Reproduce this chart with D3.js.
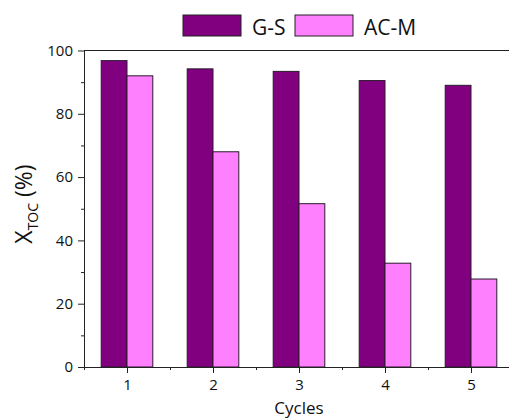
<!DOCTYPE html>
<html>
<head>
<meta charset="utf-8">
<script src="https://cdn.jsdelivr.net/npm/d3@7"></script>
<style>
  html, body { margin: 0; padding: 0; background: #fff; }
  svg { display: block; font-family: "Open Sans", "Noto Sans", sans-serif; }
</style>
</head>
<body>
<svg id="chart" width="509" height="419"></svg>
<script>
// TOC conversion over repeated cycles for the two catalysts
const cycles = [1, 2, 3, 4, 5];
const gsValues = [96.8, 94.2, 93.4, 90.5, 89.0];
const acmValues = [92.0, 68.0, 51.6, 32.8, 27.8];
const seriesNames = ["G-S", "AC-M"];
const seriesColors = ["#800080", "#ff80ff"];
const yTicks = [0, 20, 40, 60, 80, 100];
const yMinorTicks = [10, 30, 50, 70, 90];
const xMinorTicks = [0.5, 1.5, 2.5, 3.5, 4.5, 5.5];

const svg = d3.select("#chart");
const plotLeft = 84, plotRight = 514, plotTop = 50.5, plotBottom = 367;

const x = d3.scaleLinear().domain([0.5, 5.5]).range([plotLeft, plotRight]);
const y = d3.scaleLinear().domain([0, 100]).range([plotBottom, plotTop]);
const barW = 0.3;

const series = [gsValues, acmValues];

// bars: G-S sits left of the cycle tick, AC-M right of it
series.forEach((vals, si) => {
  svg.append("g").selectAll("rect")
    .data(cycles.map((c, i) => ({ c, v: vals[i] })))
    .join("rect")
    .attr("x", d => x(si === 0 ? d.c - barW : d.c))
    .attr("width", d => x(d.c + barW) - x(d.c))
    .attr("y", d => y(d.v))
    .attr("height", d => y(0) - y(d.v))
    .attr("fill", seriesColors[si])
    .attr("stroke", "#2a1a2a")
    .attr("stroke-width", 1);
});

// top frame line
svg.append("line")
  .attr("x1", plotLeft).attr("x2", plotRight)
  .attr("y1", plotTop).attr("y2", plotTop)
  .attr("stroke", "#222").attr("stroke-width", 1);

// x axis
svg.append("g")
  .attr("transform", `translate(0,${plotBottom})`)
  .call(d3.axisBottom(x).tickValues(cycles).tickFormat(d3.format("d"))
    .tickSize(6).tickSizeOuter(0).tickPadding(6));
svg.append("g")
  .attr("transform", `translate(0,${plotBottom})`)
  .call(d3.axisBottom(x).tickValues(xMinorTicks).tickSize(3).tickSizeOuter(0).tickFormat(""))
  .select(".domain").remove();

// y axis
svg.append("g")
  .attr("transform", `translate(${plotLeft},0)`)
  .call(d3.axisLeft(y).tickValues(yTicks).tickSize(6).tickSizeOuter(0).tickPadding(5));
svg.append("g")
  .attr("transform", `translate(${plotLeft},0)`)
  .call(d3.axisLeft(y).tickValues(yMinorTicks).tickSize(3).tickSizeOuter(0).tickFormat(""))
  .select(".domain").remove();

svg.selectAll(".domain, .tick line").attr("stroke", "#222").attr("stroke-width", 1);
svg.selectAll(".tick text")
  .attr("fill", "#111")
  .style("font-family", '"Open Sans", "Noto Sans", sans-serif')
  .style("font-size", "15px");

// axis titles
svg.append("text")
  .attr("x", x(3)).attr("y", 414)
  .attr("text-anchor", "middle")
  .style("font-size", "17px")
  .attr("fill", "#111")
  .text("Cycles");

const yTitle = svg.append("text")
  .attr("transform", "translate(32,204) rotate(-90)")
  .attr("text-anchor", "middle")
  .attr("fill", "#111")
  .style("font-size", "23px");
yTitle.append("tspan").text("X");
yTitle.append("tspan").attr("dy", 6).style("font-size", "14px").text("TOC");
yTitle.append("tspan").attr("dy", -6).text(" (%)");

// legend
const legendX = [183, 295];
seriesNames.forEach((name, i) => {
  const g = svg.append("g").attr("transform", `translate(${legendX[i]},15)`);
  g.append("rect")
    .attr("width", 58).attr("height", 21)
    .attr("fill", seriesColors[i])
    .attr("stroke", "#222").attr("stroke-width", 1);
  g.append("text")
    .attr("x", 69).attr("y", 20)
    .attr("fill", "#111")
    .style("font-size", "21px")
    .text(name);
});
</script>
</body>
</html>
